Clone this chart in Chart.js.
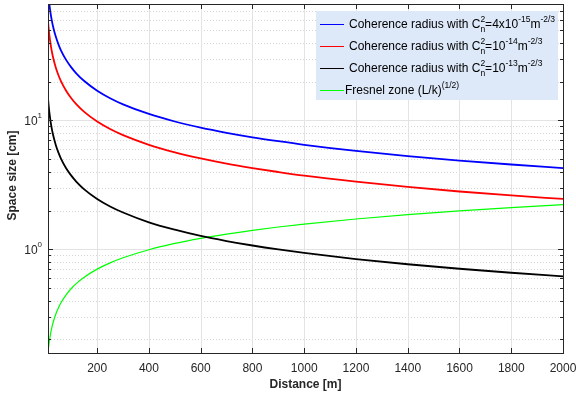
<!DOCTYPE html>
<html lang="en">
<head>
  <meta charset="UTF-8" />
  <title>Coherence radius vs Fresnel zone</title>
  <script src="https://cdn.jsdelivr.net/npm/chart.js"></script>
  <style>
    body { margin: 0; background: #fff; }
    #wrap { width: 576px; height: 401px; position: relative; }
  </style>
</head>
<body>
<div id="wrap"><canvas id="chart"></canvas></div>

<script>
  // values (distance in m, sizes in cm)
  const distance = [10, 12, 15, 20, 25, 30, 40, 50, 60, 80, 100, 120, 150, 200, 250, 300, 400, 500, 600, 700, 800, 900, 1000, 1200, 1400, 1600, 1800, 2000];
  const rhoBlue  = [102.5, 91.8, 80.4, 67.7, 59.2, 53.1, 44.7, 39.1, 35.0, 29.5, 25.8, 23.1, 20.2, 17.0, 14.87, 13.33, 11.22, 9.81, 8.79, 8.02, 7.40, 6.90, 6.47, 5.80, 5.29, 4.88, 4.55, 4.27];
  const rhoRed   = [59.1, 53.0, 46.4, 39.0, 34.1, 30.6, 25.7, 22.5, 20.2, 17.0, 14.86, 13.32, 11.65, 9.80, 8.57, 7.68, 6.47, 5.66, 5.07, 4.62, 4.27, 3.98, 3.73, 3.35, 3.05, 2.81, 2.62, 2.46];
  const rhoBlack = [14.83, 13.32, 11.63, 9.79, 8.56, 7.67, 6.46, 5.65, 5.06, 4.26, 3.73, 3.34, 2.92, 2.46, 2.15, 1.93, 1.62, 1.42, 1.27, 1.16, 1.071, 0.998, 0.937, 0.840, 0.766, 0.707, 0.658, 0.618];
  const fresnel  = [0.157, 0.172, 0.192, 0.222, 0.248, 0.272, 0.314, 0.351, 0.385, 0.444, 0.497, 0.544, 0.608, 0.702, 0.785, 0.860, 0.993, 1.111, 1.217, 1.314, 1.405, 1.490, 1.571, 1.720, 1.858, 1.987, 2.107, 2.221];

  const xTicks = [200, 400, 600, 800, 1000, 1200, 1400, 1600, 1800, 2000];
  const yTicks = [0.2, 0.3, 0.4, 0.5, 0.6, 0.7, 0.8, 0.9, 1, 2, 3, 4, 5, 6, 7, 8, 9, 10, 20, 30, 40, 50, 60, 70, 80];
  const yMajor = [1, 10];
  const yMajorLabels = [['10', '0'], ['10', '1']];

  // legend rows: [text, kind] pieces; kind: n = normal, sup, subsup = sub|sup
  const legendRows = [
    { color: '#0000ff', parts: [['Coherence radius with C', 'n'], ['n|2', 'subsup'], ['=4x10', 'n'], ['-15', 'sup'], ['m', 'n'], ['-2/3', 'sup']] },
    { color: '#ff0000', parts: [['Coherence radius with C', 'n'], ['n|2', 'subsup'], ['=10', 'n'], ['-14', 'sup'], ['m', 'n'], ['-2/3', 'sup']] },
    { color: '#000000', parts: [['Coherence radius with C', 'n'], ['n|2', 'subsup'], ['=10', 'n'], ['-13', 'sup'], ['m', 'n'], ['-2/3', 'sup']] },
    { color: '#00ff00', parts: [['Fresnel zone (L/k)', 'n'], ['(1/2)', 'sup']] }
  ];

  const FONT = '"Liberation Sans", Arial, sans-serif';
  const AXIS = '#262626';

  function pts(ys) {
    return distance.map((d, i) => ({ x: d, y: ys[i] }));
  }

  const matlabLook = {
    id: 'matlabLook',
    beforeDatasetsDraw(chart) {
      const { ctx, chartArea: a, scales: { x, y } } = chart;
      ctx.save();
      ctx.lineWidth = 1;
      // minor y grid (dotted)
      ctx.strokeStyle = '#d6d6d6';
      ctx.setLineDash([1, 2]);
      yTicks.forEach(v => {
        if (yMajor.includes(v)) return;
        const py = Math.round(y.getPixelForValue(v)) + 0.5;
        ctx.beginPath(); ctx.moveTo(a.left, py); ctx.lineTo(a.right, py); ctx.stroke();
      });
      ctx.setLineDash([]);
      ctx.strokeStyle = '#e3e3e3';
      yMajor.forEach(v => {
        const py = Math.round(y.getPixelForValue(v)) + 0.5;
        ctx.beginPath(); ctx.moveTo(a.left, py); ctx.lineTo(a.right, py); ctx.stroke();
      });
      xTicks.forEach(v => {
        const px = Math.round(x.getPixelForValue(v)) + 0.5;
        ctx.beginPath(); ctx.moveTo(px, a.top); ctx.lineTo(px, a.bottom); ctx.stroke();
      });
      ctx.restore();
    },
    afterDraw(chart) {
      const { ctx, chartArea: a, scales: { x, y } } = chart;
      ctx.save();
      // box + inward ticks
      ctx.strokeStyle = AXIS;
      ctx.lineWidth = 1;
      ctx.strokeRect(Math.round(a.left) + 0.5, Math.round(a.top) + 0.5,
        Math.round(a.right - a.left), Math.round(a.bottom - a.top));
      ctx.beginPath();
      xTicks.forEach(v => {
        const px = Math.round(x.getPixelForValue(v)) + 0.5;
        ctx.moveTo(px, a.bottom); ctx.lineTo(px, a.bottom - 5);
        ctx.moveTo(px, a.top); ctx.lineTo(px, a.top + 5);
      });
      yTicks.forEach(v => {
        const py = Math.round(y.getPixelForValue(v)) + 0.5;
        const len = yMajor.includes(v) ? 5 : 3;
        ctx.moveTo(a.left, py); ctx.lineTo(a.left + len, py);
        ctx.moveTo(a.right, py); ctx.lineTo(a.right - len, py);
      });
      ctx.stroke();

      // y tick labels 10^n
      ctx.fillStyle = AXIS;
      ctx.textBaseline = 'middle';
      yMajor.forEach((v, i) => {
        const py = y.getPixelForValue(v);
        ctx.font = '8px ' + FONT;
        const ew = ctx.measureText(yMajorLabels[i][1]).width;
        ctx.textAlign = 'left';
        ctx.fillText(yMajorLabels[i][1], a.left - 6 - ew, py - 5);
        ctx.font = '12px ' + FONT;
        ctx.textAlign = 'right';
        ctx.fillText(yMajorLabels[i][0], a.left - 6 - ew, py + 1);
      });

      // axis titles
      ctx.font = 'bold 12px ' + FONT;
      ctx.textAlign = 'center';
      ctx.fillText('Distance [m]', (a.left + a.right) / 2, 385);
      ctx.save();
      ctx.translate(13, (a.top + a.bottom) / 2 - 3);
      ctx.rotate(-Math.PI / 2);
      ctx.fillText('Space size [cm]', 0, 0);
      ctx.restore();

      // legend
      const lx = 316, ly = 11, lw = 242, lh = 89;
      ctx.fillStyle = '#dde8f8';
      ctx.fillRect(lx, ly, lw, lh);
      legendRows.forEach((row, i) => {
        const cy = ly + 13 + i * 22;
        ctx.strokeStyle = row.color;
        ctx.lineWidth = 1;
        ctx.beginPath(); ctx.moveTo(lx + 4, cy + 0.5); ctx.lineTo(lx + 28, cy + 0.5); ctx.stroke();
        let tx = i === 3 ? lx + 29 : lx + 33;
        ctx.fillStyle = '#000';
        ctx.textAlign = 'left';
        ctx.textBaseline = 'middle';
        row.parts.forEach(([t, k]) => {
          if (k === 'n') {
            ctx.font = '12px ' + FONT;
            ctx.fillText(t, tx, cy + 1);
            tx += ctx.measureText(t).width;
          } else if (k === 'sup') {
            ctx.font = '8.5px ' + FONT;
            ctx.fillText(t, tx, cy - 4);
            tx += ctx.measureText(t).width;
          } else {
            const [sb, sp] = t.split('|');
            ctx.font = '8.5px ' + FONT;
            ctx.fillText(sp, tx, cy - 4);
            ctx.fillText(sb, tx, cy + 6);
            tx += Math.max(ctx.measureText(sb).width, ctx.measureText(sp).width);
          }
        });
      });
      ctx.restore();
    }
  };

  new Chart(document.getElementById('chart'), {
    type: 'line',
    data: {
      datasets: [
        { label: 'blue', data: pts(rhoBlue), borderColor: '#0000ff', borderWidth: 1.8 },
        { label: 'red', data: pts(rhoRed), borderColor: '#ff0000', borderWidth: 1.8 },
        { label: 'black', data: pts(rhoBlack), borderColor: '#000000', borderWidth: 1.8 },
        { label: 'fresnel', data: pts(fresnel), borderColor: '#00ff00', borderWidth: 1.2 }
      ]
    },
    options: {
      responsive: true,
      maintainAspectRatio: false,
      animation: false,
      layout: { padding: { left: 0, right: 13, top: 4, bottom: 0 } },
      elements: {
        point: { radius: 0 },
        line: { cubicInterpolationMode: 'monotone', fill: false }
      },
      plugins: { legend: { display: false }, tooltip: { enabled: false } },
      scales: {
        x: {
          type: 'linear',
          min: 10,
          max: 2000,
          afterBuildTicks: s => { s.ticks = xTicks.map(v => ({ value: v })); },
          afterFit: s => { s.height = 48; s.paddingLeft = 0; s.paddingRight = 0; },
          grid: { display: false, drawTicks: false },
          border: { display: false },
          ticks: {
            color: AXIS, padding: 8, maxRotation: 0, autoSkip: false,
            font: { family: FONT, size: 12 },
            callback: v => String(v)
          }
        },
        y: {
          type: 'logarithmic',
          min: 0.157,
          max: 80,
          afterBuildTicks: s => { s.ticks = yTicks.map(v => ({ value: v })); },
          afterFit: s => { s.width = 48; s.paddingTop = 0; s.paddingBottom = 0; },
          grid: { display: false, drawTicks: false },
          border: { display: false },
          ticks: { callback: () => '', font: { family: FONT, size: 12 } }
        }
      }
    },
    plugins: [matlabLook]
  });
</script>
</body>
</html>
